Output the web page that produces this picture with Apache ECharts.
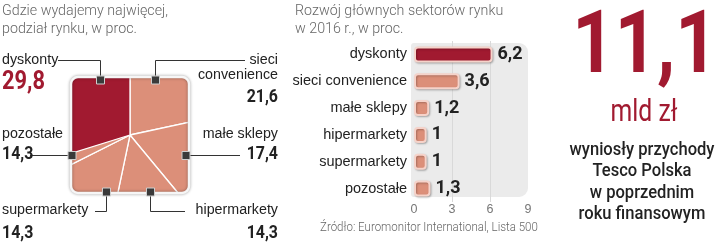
<!DOCTYPE html>
<html>
<head>
<meta charset="utf-8">
<script src="https://cdn.jsdelivr.net/npm/echarts@6/dist/echarts.min.js"></script>
<style>html,body{margin:0;padding:0;background:#fff}#c{width:720px;height:245px}</style>
</head>
<body>
<div id="c"></div>
<script>
// ---- data ----
const shareCategories = ['dyskonty', 'sieci convenience', 'małe sklepy', 'hipermarkety', 'supermarkety', 'pozostałe'];
const shareValues = [29.8, 21.6, 17.4, 14.3, 14.3, 14.3];
const growthCategories = ['dyskonty', 'sieci convenience', 'małe sklepy', 'hipermarkety', 'supermarkety', 'pozostałe'];
const growthValues = [6.2, 3.6, 1.2, 1, 1, 1.3];
const growthTicks = [0, 3, 6, 9];
const headline = '11,1';
const headlineUnit = 'mld zł';
const headlineText = ['wyniosły przychody', 'Tesco Polska', 'w poprzednim', 'roku finansowym'];

const DARK = '#a11a30';
const SALMON = '#dc8f79';
const fmt = v => String(v).replace('.', ',');

const chart = echarts.init(document.getElementById('c'), null, {renderer: 'canvas'});

// pie: dyskonty drawn counter-clockwise on top, others clockwise
const restOthers = 100 - shareValues.slice(1).reduce((a, b) => a + b, 0);
const pieCenter = [130, 135];
const pieR = 86;
const pieTop = {
  type: 'pie', center: pieCenter, radius: pieR, startAngle: 90, clockwise: false,
  silent: true, label: {show: false}, labelLine: {show: false}, z: 3,
  data: [
    {name: shareCategories[0], value: shareValues[0], itemStyle: {color: DARK, borderColor: '#fff', borderWidth: 1.3}},
    {name: 'rest', value: 100 - shareValues[0], itemStyle: {color: 'rgba(0,0,0,0)', borderWidth: 0}}
  ]
};
const pieBottom = {
  type: 'pie', center: pieCenter, radius: pieR, startAngle: 90, clockwise: true,
  silent: true, label: {show: false}, labelLine: {show: false}, z: 2,
  data: shareCategories.slice(1).map((n, i) => ({name: n, value: shareValues[i + 1], itemStyle: {color: SALMON, borderColor: '#fff', borderWidth: 1.3}}))
    .concat([{name: 'rest', value: restOthers, itemStyle: {color: 'rgba(0,0,0,0)', borderWidth: 0}}])
};

// square window for the pie (mask = keyhole polygon)
const sq = {x0: 71, y0: 77, x1: 189, y1: 193, r: 7};
function roundedRectPts(s) {
  const pts = [];
  const corners = [
    [s.x1 - s.r, s.y0 + s.r, -90], [s.x1 - s.r, s.y1 - s.r, 0],
    [s.x0 + s.r, s.y1 - s.r, 90], [s.x0 + s.r, s.y0 + s.r, 180]
  ];
  corners.forEach(c => {
    for (let k = 0; k <= 6; k++) {
      const a = (c[2] + k * 15) * Math.PI / 180;
      pts.push([c[0] + s.r * Math.cos(a), c[1] + s.r * Math.sin(a)]);
    }
  });
  return pts;
}
const inner = roundedRectPts(sq).reverse();
const maskPts = [[35, 40], [225, 40], [225, 230], [35, 230], [35, 40]].concat(inner, [inner[0], [35, 40]]);

const FONT = "'Liberation Sans', Arial, sans-serif";
const COND = "'Roboto', sans-serif";
const graphics = [];
graphics.push({type: 'polygon', z: 10, silent: true, shape: {points: maskPts}, style: {fill: '#fff', stroke: null}});
graphics.push({type: 'rect', z: 11, silent: true, shape: {x: sq.x0, y: sq.y0, width: sq.x1 - sq.x0, height: sq.y1 - sq.y0, r: sq.r},
  style: {fill: null, stroke: '#f6f6f6', lineWidth: 2.5, shadowColor: 'rgba(0,0,0,0.4)', shadowBlur: 3}});

// leader lines
const LC = '#333';
const leaders = [
  [[58, 60.5], [100.5, 60.5], [100.5, 80]],
  [[155.5, 80], [155.5, 60.5], [245, 60.5]],
  [[30, 155.5], [72, 155.5]],
  [[186, 155.5], [240, 155.5]],
  [[106.5, 192], [106.5, 211.5], [95, 211.5]],
  [[150.5, 192], [150.5, 211.5], [185, 211.5]]
];
leaders.forEach(p => graphics.push({type: 'polyline', z: 12, silent: true, shape: {points: p}, style: {stroke: LC, lineWidth: 1, fill: null}}));
const markers = [[100.5, 80], [155.5, 80], [72, 155.5], [186, 155.5], [106.5, 192], [150.5, 192]];
markers.forEach(m => graphics.push({type: 'rect', z: 13, silent: true, shape: {x: m[0] - 4, y: m[1] - 4, width: 8, height: 8},
  style: {fill: '#3a3a3a', stroke: '#cfcfcf', lineWidth: 1}}));

function txt(x, y, text, size, opts) {
  opts = opts || {};
  graphics.push({type: 'text', z: 14, silent: true, x: x, y: y, scaleX: opts.sx || 1,
    style: {text: text, fill: opts.color || '#222', font: `${opts.weight || 'normal'} ${size}px ${opts.family || FONT}`,
      align: opts.align || 'left', verticalAlign: 'middle'}});
}
// titles
txt(2, 11, 'Gdzie wydajemy najwięcej,', 15.5, {color: '#666', family: COND, weight: 300, sx: 0.92});
txt(2, 29, 'podział rynku, w proc.', 15.5, {color: '#666', family: COND, weight: 300, sx: 0.92});
txt(295, 11, 'Rozwój głównych sektorów rynku', 15.5, {color: '#666', family: COND, weight: 300, sx: 0.92});
txt(295, 29, 'w 2016 r., w proc.', 15.5, {color: '#666', family: COND, weight: 300, sx: 0.92});

// pie labels
const L = 2, R = 278;
txt(L, 60, shareCategories[0], 15.5, {sx: 0.92});
txt(L, 82, fmt(shareValues[0]), 26, {weight: 'bold', color: DARK, family: COND, sx: 0.84});
txt(R, 60, 'sieci', 15.5, {align: 'right', sx: 0.92});
txt(R, 75, 'convenience', 15.5, {align: 'right', sx: 0.92});
txt(R, 97, fmt(shareValues[1]), 18.5, {weight: 'bold', align: 'right', family: COND, sx: 0.86});
txt(L, 134, shareCategories[5], 15.5, {sx: 0.92});
txt(L, 154, fmt(shareValues[5]), 18.5, {weight: 'bold', family: COND, sx: 0.86});
txt(R, 134, shareCategories[2], 15.5, {align: 'right', sx: 0.92});
txt(R, 154, fmt(shareValues[2]), 18.5, {weight: 'bold', align: 'right', family: COND, sx: 0.86});
txt(L, 210, shareCategories[4], 15.5, {sx: 0.92});
txt(L, 233, fmt(shareValues[4]), 18.5, {weight: 'bold', family: COND, sx: 0.86});
txt(R, 210, shareCategories[3], 15.5, {align: 'right', sx: 0.92});
txt(R, 233, fmt(shareValues[3]), 18.5, {weight: 'bold', align: 'right', family: COND, sx: 0.86});

// bar background
graphics.push({type: 'rect', z: -10, silent: true, shape: {x: 411, y: 43, width: 117, height: 154, r: [3, 9, 9, 3]}, style: {fill: '#ebebeb'}});
// source
txt(320, 228, 'Źródło: Euromonitor International, Lista 500', 12.5, {color: '#666', family: COND, weight: 300, sx: 0.92});

// right panel
txt(645, 50, headline, 88, {weight: 'bold', color: DARK, align: 'center', family: COND, sx: 0.84});
txt(644, 113, headlineUnit, 31, {color: DARK, align: 'center', family: COND, weight: 'normal', sx: 0.8});
const ry = [150, 171.5, 193, 214.5];
headlineText.forEach((t, i) => txt(642, ry[i], t, 18, {color: '#222', align: 'center', family: COND, weight: 500, sx: 0.92}));

const option = {
  animation: false,
  backgroundColor: '#fff',
  grid: {left: 414, right: 192, top: 41, height: 161, containLabel: false},
  xAxis: {
    type: 'value', min: growthTicks[0], max: growthTicks[growthTicks.length - 1], interval: growthTicks[1] - growthTicks[0],
    axisLine: {show: false}, axisTick: {show: false},
    axisLabel: {color: '#777', fontSize: 12.5, fontFamily: FONT, margin: 1},
    splitLine: {show: true, lineStyle: {color: ['rgba(0,0,0,0)', '#d9d9d9', '#d9d9d9', 'rgba(0,0,0,0)'], width: 1}}
  },
  yAxis: {
    type: 'category', inverse: true, data: growthCategories,
    axisLine: {show: false}, axisTick: {show: false},
    axisLabel: {color: '#222', fontSize: 14.5, fontFamily: FONT, margin: 7}
  },
  series: [
    {
      type: 'bar', barWidth: 16, silent: true,
      data: growthValues.map((v, i) => ({value: v, itemStyle: {color: i === 0 ? DARK : SALMON}})),
      itemStyle: {borderColor: '#f6d3ca', borderWidth: 2, borderRadius: 3, shadowColor: 'rgba(0,0,0,0.25)', shadowBlur: 2, shadowOffsetX: 1, shadowOffsetY: 1},
      label: {show: true, position: 'right', distance: 5, formatter: p => fmt(p.value), color: '#222', fontSize: 18, fontWeight: 'bold', fontFamily: COND}
    },
    pieBottom, pieTop
  ],
  graphic: graphics
};
chart.setOption(option);
</script>
</body>
</html>
